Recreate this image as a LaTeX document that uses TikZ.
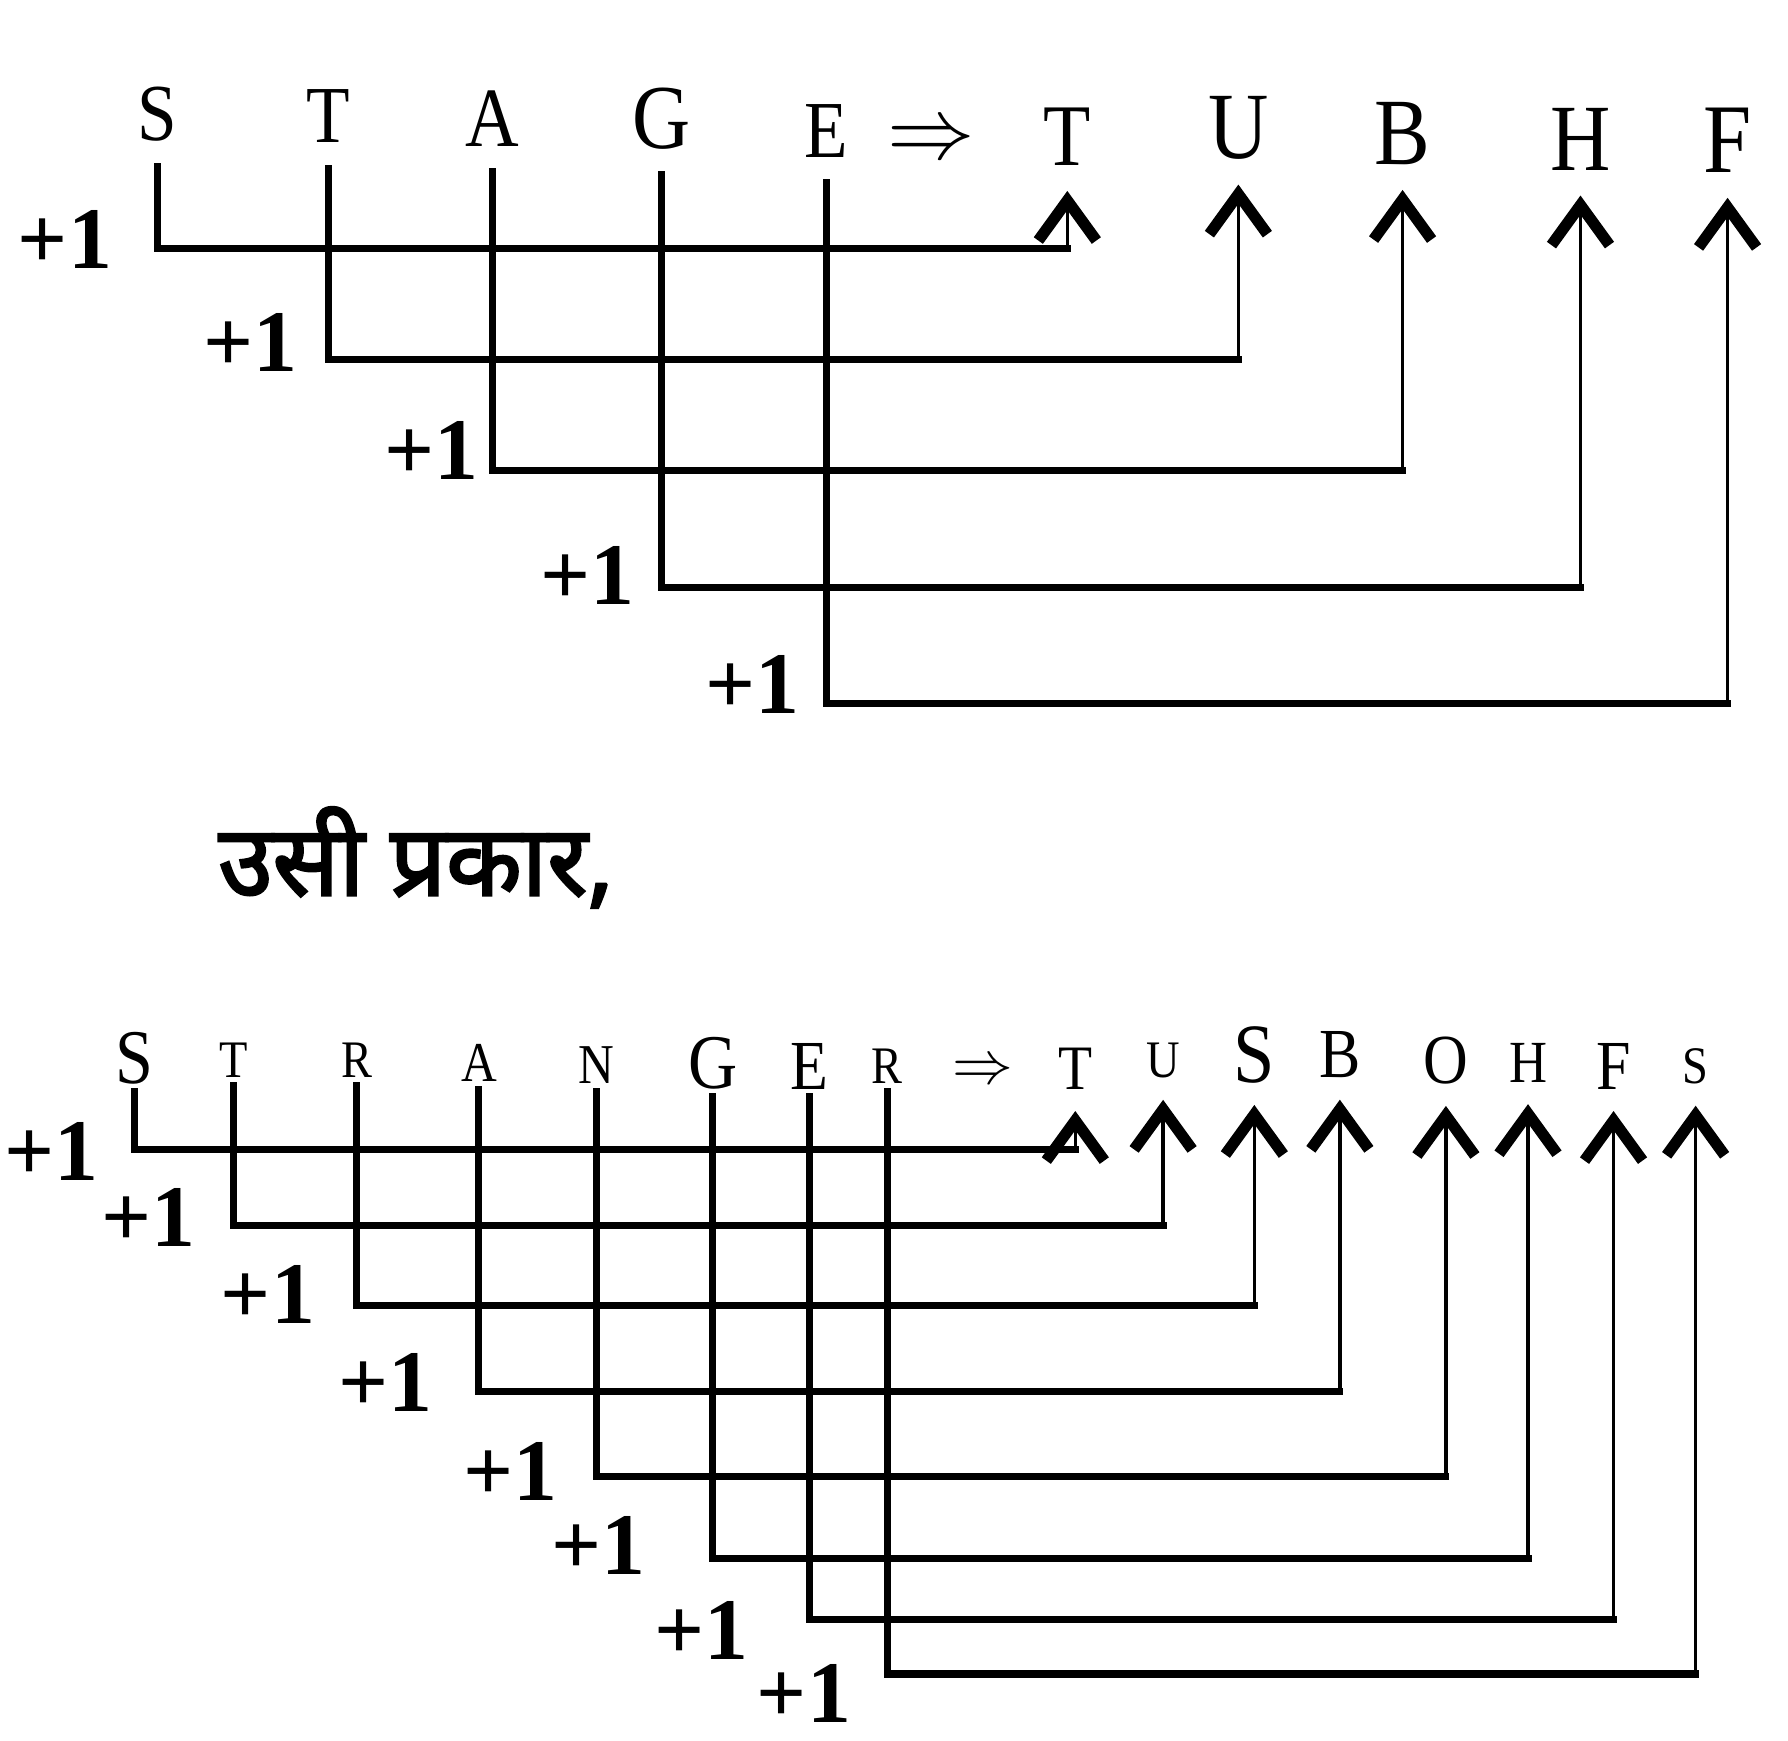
\documentclass[tikz,border=0pt]{standalone}
\usepackage{fontspec}
\setmainfont{Liberation Serif}
\newfontfamily\slimfont[FakeStretch=0.88]{Liberation Serif}
\newfontfamily\hindifont[Script=Devanagari,FakeBold=2.5]{Noto Sans}
\usetikzlibrary{arrows.meta}
\begin{document}
\begin{tikzpicture}[x=0.011403cm,y=-0.011403cm,
	letter/.style={inner sep=0pt,font=\slimfont\fontsize{#1}{#1}\selectfont},
	plusone/.style={inner sep=0pt,font=\bfseries\fontsize{25}{25}\selectfont},
	feed/.style={line width=2pt,line cap=rect},
	lift/.style={line width=1pt,-{Straight Barb[length=4mm,width=5.8mm,line width=3.2pt]}}]
	\useasboundingbox (0,0) rectangle (1568,1526);
	% STAGE => TUBHF
	\foreach \ltr/\x/\y/\sz [count=\i] in {S/138/100/23,T/288/102/23,A/432/104/24,G/580/104/26,E/725/115/23}
		\node[letter=\sz] (stage\i) at (\x,\y) {\ltr};
	\foreach \ltr/\x/\y/\sz [count=\i] in {T/936/120/25,U/1086/112/27,B/1230/117/27,H/1386/122/27,F/1515/123/28}
		\node[letter=\sz] (tubhf\i) at (\x,\y) {\ltr};
	\node[font=\fontsize{24}{24}\selectfont] (imp1) at (817,125) {$\Rightarrow$};
	\foreach \i/\lv in {1/218,2/315,3/413,4/515,5/617}{
		\coordinate (bend\i) at (tubhf\i |- 0,\lv);
		\draw[feed,shorten <=7pt] (stage\i.south) |- (bend\i);
		\draw[lift,shorten >=7pt] (bend\i) -- (tubhf\i.south);
	}
	\foreach \x/\y [count=\i] in {57/210,220/300,378/395,515/505,660/600}
		\node[plusone] (inca\i) at (\x,\y) {+1};
	% text between
	\node[font=\hindifont\fontsize{28}{34}\selectfont] (note) at (365,752) {उसी प्रकार,};
	% STRANGER => TUSBOHFS
	\foreach \ltr/\x/\y/\sz [count=\i] in {S/118/928/22,T/205/930/15,R/313/930/15,A/420/932/16,N/523/934/16,G/625/932/22,E/710/935/20,R/778/935/15}
		\node[letter=\sz] (stranger\i) at (\x,\y) {\ltr};
	\foreach \ltr/\x/\y/\sz [count=\i] in {T/943/937/18,U/1020/930/15,S/1100/925/24,B/1175/925/20,O/1268/930/20,H/1340/932/17,F/1415/935/20,S/1487/935/15}
		\node[letter=\sz] (tusbohfs\i) at (\x,\y) {\ltr};
	\node[font=\fontsize{18}{18}\selectfont] (imp2) at (862,940) {$\Rightarrow$};
	\foreach \i/\lv in {1/1008,2/1075,3/1145,4/1220,5/1295,6/1367,7/1420,8/1468}{
		\coordinate (knee\i) at (tusbohfs\i |- 0,\lv);
		\draw[feed,shorten <=2pt] (stranger\i.south) |- (knee\i);
		\draw[lift,shorten >=6pt] (knee\i) -- (tusbohfs\i.south);
	}
	\foreach \x/\y [count=\i] in {45/1010,130/1068,235/1135,338/1212,448/1290,525/1355,615/1430,705/1485}
		\node[plusone] (incb\i) at (\x,\y) {+1};
\end{tikzpicture}
\end{document}
